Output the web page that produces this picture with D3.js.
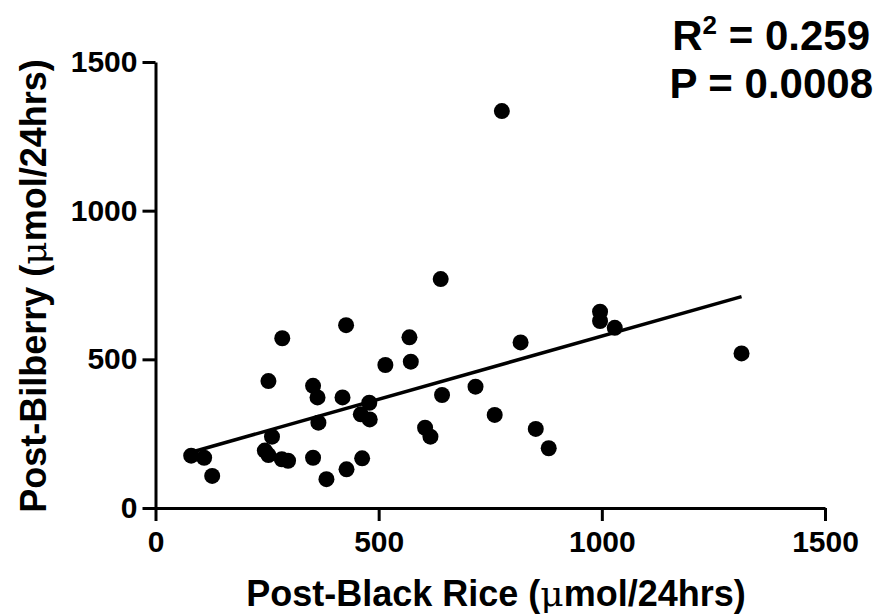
<!DOCTYPE html>
<html>
<head>
  <meta charset="utf-8">
  <script src="https://cdnjs.cloudflare.com/ajax/libs/d3/7.8.5/d3.min.js"></script>
  <style>
    body, html {
      margin: 0;
      padding: 0;
      background: #fff;
    }
    svg text {
      font-family: "Liberation Sans", Arial, Helvetica, sans-serif;
      font-weight: bold;
      fill: #000;
    }
  </style>
</head>
<body>
<div id="chart"></div>
<script>
// values (umol/24hrs)
const blackRice = [80, 109, 127, 284, 253, 427, 569, 572, 515, 353,
                   363, 419, 479, 460, 480, 365, 261, 245, 253, 283,
                   297, 353, 383, 428, 463, 642, 717, 604, 616, 760,
                   818, 996, 996, 1029, 1313, 852, 881, 776, 639];
const bilberry  = [176, 169, 108, 571, 427, 615, 574, 492, 481, 411,
                   372, 372, 354, 315, 298, 287, 240, 193, 178, 164,
                   159, 169, 97, 130, 167, 380, 408, 270, 240, 313,
                   557, 660, 629, 606, 520, 266, 201, 1335, 770];
const tickValues = [0, 500, 1000, 1500];
const statLines = ["= 0.259", "P = 0.0008"];

const width = 882, height = 616;

const svg = d3.select("#chart").append("svg")
  .attr("width", width)
  .attr("height", height);

const x = d3.scaleLinear().domain([0, 1500]).range([155.5, 825]);
const y = d3.scaleLinear().domain([0, 1500]).range([508, 62]);

const points = blackRice.map((v, i) => ({x: v, y: bilberry[i]}));

// least squares fit
const mx = d3.mean(blackRice), my = d3.mean(bilberry);
const sxy = d3.sum(points, d => (d.x - mx) * (d.y - my));
const sxx = d3.sum(points, d => (d.x - mx) ** 2);
const slope = sxy / sxx;
const intercept = my - slope * mx;
const [xMin, xMax] = d3.extent(blackRice);

const styleAxis = g => {
  g.attr("font-size", null).attr("font-family", null);
  g.selectAll("path, line").attr("stroke", "#000").attr("stroke-width", 3);
  g.selectAll("text").style("font-size", "30px");
};

svg.append("g")
  .attr("transform", `translate(0,${y(0)})`)
  .call(d3.axisBottom(x).tickValues(tickValues).tickFormat(d3.format("d"))
    .tickSize(13).tickSizeOuter(0).tickPadding(10))
  .call(styleAxis);

svg.append("g")
  .attr("transform", `translate(${x(0)},0)`)
  .call(d3.axisLeft(y).tickValues(tickValues).tickFormat(d3.format("d"))
    .tickSize(13).tickSizeOuter(0).tickPadding(5))
  .call(styleAxis);

// regression line
svg.append("line")
  .attr("x1", x(xMin)).attr("y1", y(intercept + slope * xMin))
  .attr("x2", x(xMax)).attr("y2", y(intercept + slope * xMax))
  .attr("stroke", "#000")
  .attr("stroke-width", 3.5);

svg.append("g")
  .selectAll("circle")
  .data(points)
  .join("circle")
    .attr("cx", d => x(d.x))
    .attr("cy", d => y(d.y))
    .attr("r", 8)
    .attr("fill", "#000");

// axis titles
const xt = svg.append("text")
  .attr("x", 496)
  .attr("y", 606)
  .attr("text-anchor", "middle")
  .style("font-size", "36px");
xt.append("tspan").text("Post-Black Rice (");
xt.append("tspan").style("font-family", "'DejaVu Serif', serif").style("font-weight", "normal").text("\u03bc");
xt.append("tspan").text("mol/24hrs)");

const yt = svg.append("text")
  .attr("transform", "translate(46,286) rotate(-90)")
  .attr("text-anchor", "middle")
  .style("font-size", "36px");
yt.append("tspan").text("Post-Bilberry (");
yt.append("tspan").style("font-family", "'DejaVu Serif', serif").style("font-weight", "normal").text("\u03bc");
yt.append("tspan").text("mol/24hrs)");

// stats
const r2 = svg.append("text")
  .attr("x", 870)
  .attr("y", 50)
  .attr("text-anchor", "end")
  .style("font-size", "42px");
r2.append("tspan").text("R");
r2.append("tspan").attr("dy", -16).style("font-size", "26px").text("2");
r2.append("tspan").attr("dy", 16).text(" " + statLines[0]);

svg.append("text")
  .attr("x", 873)
  .attr("y", 98)
  .attr("text-anchor", "end")
  .style("font-size", "42px")
  .text(statLines[1]);
</script>
</body>
</html>
